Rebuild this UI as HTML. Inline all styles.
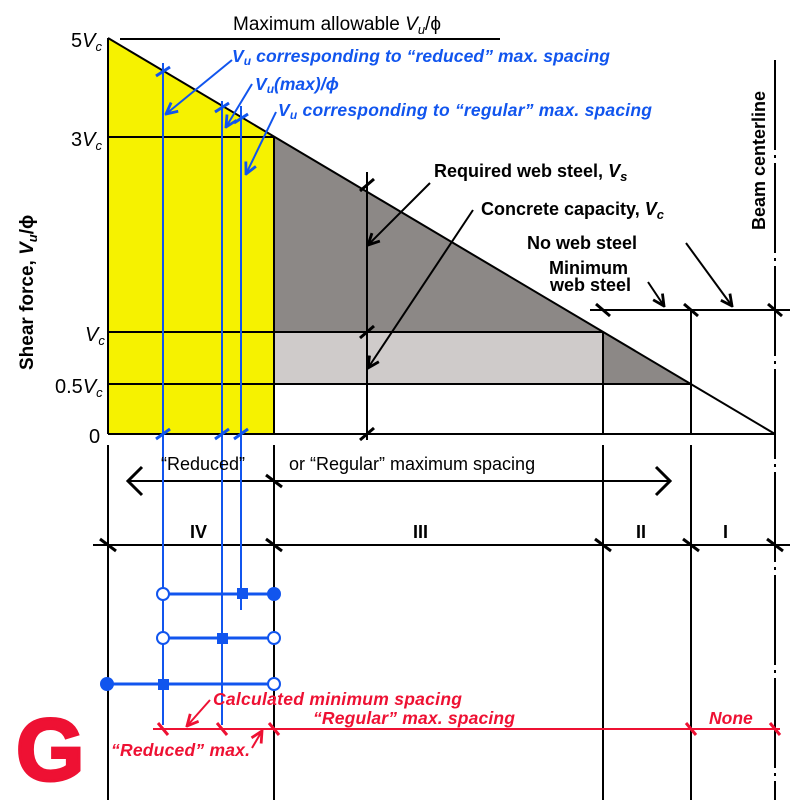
<!DOCTYPE html>
<html><head><meta charset="utf-8"><style>
html,body{margin:0;padding:0;background:#fff;}
svg{display:block;font-family:"Liberation Sans",Arial,sans-serif;}
.b{font-weight:bold;}
</style></head><body>
<svg width="800" height="800" viewBox="0 0 800 800" xmlns="http://www.w3.org/2000/svg">
<defs>
<marker id="ak" viewBox="0 0 10 10" refX="9" refY="5" markerWidth="7" markerHeight="7" orient="auto"><path d="M1,1 L9,5 L1,9" fill="none" stroke="#000" stroke-width="2"/></marker>
<marker id="ab" viewBox="0 0 10 10" refX="9" refY="5" markerWidth="7" markerHeight="7" orient="auto"><path d="M1,1 L9,5 L1,9" fill="none" stroke="#1155ee" stroke-width="2"/></marker>
<marker id="ar" viewBox="0 0 10 10" refX="9" refY="5" markerWidth="7" markerHeight="7" orient="auto"><path d="M1,1 L9,5 L1,9" fill="none" stroke="#ee1133" stroke-width="2"/></marker>
</defs>
<polygon points="108,38 274,137 274,434 108,434" fill="#f6f200"/>
<polygon points="274,137 603,332 274,332" fill="#8c8886"/>
<rect x="274" y="332" width="329" height="52" fill="#cfcbca"/>
<polygon points="603,332 691,384 603,384" fill="#8c8886"/>
<g stroke="#000" stroke-width="2" fill="none">
<line x1="108" y1="38" x2="775" y2="434"/>
<line x1="108" y1="38" x2="108" y2="434"/>
<line x1="108" y1="137" x2="274" y2="137"/>
<line x1="108" y1="332" x2="603" y2="332"/>
<line x1="108" y1="384" x2="691" y2="384"/>
<line x1="108" y1="434" x2="775" y2="434"/>
<line x1="274" y1="137" x2="274" y2="434"/>
<line x1="603" y1="332" x2="603" y2="434"/>
<line x1="691" y1="310" x2="691" y2="434"/>
<line x1="367" y1="172" x2="367" y2="440"/>
<line x1="120" y1="39" x2="500" y2="39"/>
<line x1="590" y1="310" x2="790" y2="310"/>
<line x1="775" y1="60" x2="775" y2="800" stroke-dasharray="90,5,3,5"/>
<line x1="108" y1="445" x2="108" y2="800"/>
<line x1="274" y1="445" x2="274" y2="800"/>
<line x1="603" y1="445" x2="603" y2="800"/>
<line x1="691" y1="445" x2="691" y2="800"/>
<line x1="93" y1="545" x2="790" y2="545"/>
<line x1="128" y1="481" x2="670" y2="481"/>
<path d="M142,467 L128,481 L142,495" stroke-width="3"/>
<path d="M656,467 L670,481 L656,495" stroke-width="3"/>
<g stroke-width="3">
<line x1="100" y1="539" x2="116" y2="551"/><line x1="266" y1="539" x2="282" y2="551"/>
<line x1="595" y1="539" x2="611" y2="551"/><line x1="683" y1="539" x2="699" y2="551"/>
<line x1="767" y1="539" x2="783" y2="551"/><line x1="266" y1="475" x2="282" y2="487"/>
<line x1="360" y1="191" x2="374" y2="179"/><line x1="360" y1="338" x2="374" y2="326"/>
<line x1="360" y1="440" x2="374" y2="428"/>
<line x1="596" y1="304" x2="610" y2="316"/><line x1="684" y1="304" x2="698" y2="316"/><line x1="768" y1="304" x2="782" y2="316"/>
</g>
<line x1="430" y1="183" x2="368" y2="245" marker-end="url(#ak)"/>
<line x1="473" y1="210" x2="368" y2="368" marker-end="url(#ak)"/>
<line x1="648" y1="282" x2="664" y2="306" marker-end="url(#ak)"/>
<line x1="686" y1="243" x2="732" y2="306" marker-end="url(#ak)"/>
</g>
<g stroke="#1155ee" stroke-width="2" fill="none">
<line x1="163" y1="63" x2="163" y2="725"/>
<line x1="222" y1="101" x2="222" y2="725"/>
<line x1="241" y1="106" x2="241" y2="610"/>
<g stroke-width="3">
<line x1="156" y1="76" x2="170" y2="67"/><line x1="215" y1="112" x2="229" y2="103"/><line x1="234" y1="123" x2="248" y2="114"/>
<line x1="156" y1="439" x2="170" y2="429"/><line x1="215" y1="439" x2="229" y2="429"/><line x1="234" y1="439" x2="248" y2="429"/>
<line x1="163" y1="594" x2="274" y2="594"/><line x1="163" y1="638" x2="274" y2="638"/><line x1="108" y1="684" x2="274" y2="684"/>
</g>
<line x1="232" y1="60" x2="166" y2="114" marker-end="url(#ab)"/>
<line x1="252" y1="84" x2="226" y2="127" marker-end="url(#ab)"/>
<line x1="276" y1="112" x2="246" y2="174" marker-end="url(#ab)"/>
<circle cx="163" cy="594" r="6" fill="#fff"/><circle cx="163" cy="638" r="6" fill="#fff"/><circle cx="274" cy="638" r="6" fill="#fff"/><circle cx="274" cy="684" r="6" fill="#fff"/>
</g>
<g fill="#1155ee">
<circle cx="274" cy="594" r="7"/><circle cx="107" cy="684" r="7"/>
<rect x="237" y="588" width="11" height="11"/><rect x="217" y="633" width="11" height="11"/><rect x="158" y="679" width="11" height="11"/>
</g>
<g stroke="#ee1133" fill="none" stroke-width="2">
<line x1="153" y1="729" x2="780" y2="729"/>
<g stroke-width="3">
<line x1="158" y1="723" x2="168" y2="735"/><line x1="217" y1="723" x2="227" y2="735"/><line x1="269" y1="723" x2="279" y2="735"/>
<line x1="686" y1="723" x2="696" y2="735"/><line x1="770" y1="723" x2="780" y2="735"/>
</g>
<line x1="210" y1="700" x2="187" y2="726" marker-end="url(#ar)"/>
<line x1="252" y1="748" x2="262" y2="731" marker-end="url(#ar)"/>
</g>
<g font-size="19" fill="#000">
<text x="233" y="30">Maximum allowable <tspan font-style="italic">V<tspan font-size="13" dy="4">u</tspan></tspan><tspan dy="-4">/ϕ</tspan></text>
<text x="71" y="47" font-size="20">5<tspan font-style="italic">V<tspan font-size="13" dy="4">c</tspan></tspan></text>
<text x="71" y="146" font-size="20">3<tspan font-style="italic">V<tspan font-size="13" dy="4">c</tspan></tspan></text>
<text x="85" y="341" font-size="20" font-style="italic">V<tspan font-size="13" dy="4">c</tspan></text>
<text x="55" y="393" font-size="20">0.5<tspan font-style="italic">V<tspan font-size="13" dy="4">c</tspan></tspan></text>
<text x="89" y="443" font-size="20">0</text>
<text x="161" y="470" font-size="18">“Reduced”</text>
<text x="289" y="470" font-size="18">or “Regular” maximum spacing</text>
<text class="b" x="190" y="538" font-size="18">IV</text>
<text class="b" x="413" y="538" font-size="18">III</text>
<text class="b" x="636" y="538" font-size="18">II</text>
<text class="b" x="723" y="538" font-size="18">I</text>
<text class="b" x="33" y="370" font-size="19" transform="rotate(-90 33 370)">Shear force, <tspan font-style="italic">V<tspan font-size="13" dy="4">u</tspan></tspan><tspan dy="-4">/ϕ</tspan></text>
<text class="b" x="765" y="230" font-size="18" transform="rotate(-90 765 230)">Beam centerline</text>
<text class="b" x="434" y="177" font-size="18">Required web steel, <tspan font-style="italic">V<tspan font-size="13" dy="4">s</tspan></tspan></text>
<text class="b" x="481" y="215" font-size="18">Concrete capacity, <tspan font-style="italic">V<tspan font-size="13" dy="4">c</tspan></tspan></text>
<text class="b" x="527" y="249" font-size="18">No web steel</text>
<text class="b" x="549" y="274" font-size="18">Minimum</text>
<text class="b" x="550" y="291" font-size="18">web steel</text>
</g>
<g fill="#1155ee" font-weight="bold" font-style="italic" font-size="17.5">
<text x="232" y="62" textLength="378">V<tspan font-size="12" dy="3">u</tspan><tspan dy="-3"> corresponding to “reduced” max. spacing</tspan></text>
<text x="255" y="90">V<tspan font-size="12" dy="3">u</tspan><tspan dy="-3">(max)/ϕ</tspan></text>
<text x="278" y="116" textLength="374">V<tspan font-size="12" dy="3">u</tspan><tspan dy="-3"> corresponding to “regular” max. spacing</tspan></text>
</g>
<g fill="#ee1133" font-weight="bold" font-style="italic" font-size="17.5">
<text x="213" y="705" textLength="249">Calculated minimum spacing</text>
<text x="313" y="724" textLength="202">“Regular” max. spacing</text>
<text x="111" y="756" textLength="139">“Reduced” max.</text>
<text x="709" y="724">None</text>
</g>
<text x="16" y="780" font-size="88" font-weight="bold" fill="#ee1133" stroke="#ee1133" stroke-width="3">G</text>
</svg>
</body></html>
